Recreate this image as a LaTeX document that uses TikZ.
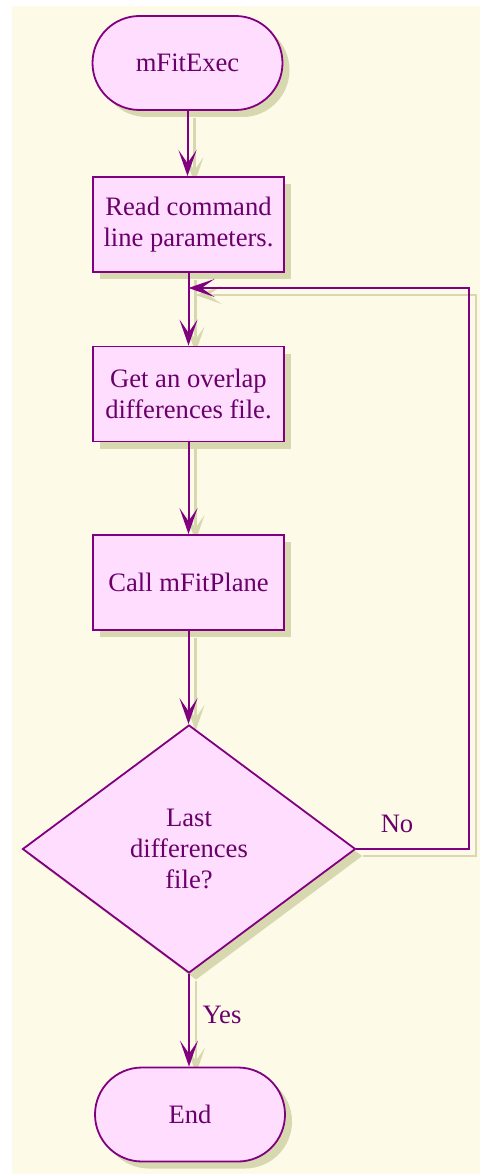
\documentclass[tikz,border=0pt]{standalone}
\usepackage{fontspec}
\setmainfont{Liberation Serif}
\usetikzlibrary{shapes.geometric,shadows,arrows.meta}
\definecolor{bgc}{HTML}{FDFAE8}
\definecolor{fillc}{HTML}{FFDDFF}
\definecolor{linec}{HTML}{800080}
\definecolor{shc}{HTML}{D8D8B0}
\definecolor{txtc}{HTML}{6A006A}
\pgfdeclarelayer{background}
\pgfsetlayers{background,main}
\begin{document}
\begin{tikzpicture}[x=1pt,y=-1pt,
  font=\fontsize{26.6}{31}\selectfont,
  base/.style={draw=linec, line width=1.8pt, fill=fillc, text=txtc, align=center,
     drop shadow={shadow xshift=7pt, shadow yshift=-7pt, fill=shc, opacity=1}},
  term/.style={base, rectangle, rounded corners=47pt, minimum width=190pt, minimum height=94pt, inner sep=0pt},
  proc/.style={base, rectangle, minimum width=191pt, minimum height=95pt, inner sep=0pt},
  decision/.style={base, diamond, minimum width=333pt, minimum height=248pt, inner sep=0pt, aspect=1.34},
  arr/.style={draw=linec, line width=2pt, -{Stealth[length=26pt,width=18pt,inset=13pt]}},
  sharr/.style={draw=shc, line width=2.6pt, -{Stealth[length=26pt,width=18pt,inset=13pt]}},
  lbl/.style={text=txtc, inner sep=0pt}
]
\useasboundingbox (0,0) rectangle (480,1174);

\node[term] (exec) at (187.5,63) {mFitExec};
\node[proc] (read) at (188.5,224.5) {Read command\\line parameters.};
\node[proc] (get) at (188.5,394) {Get an overlap\\differences file.};
\node[proc] (call) at (188.5,582.5) {Call mFitPlane};
\node[decision] (dec) at (189,849) {Last\\differences\\file?};
\node[term] (end) at (190,1114.5) {End};
\coordinate (corner) at (469,288);
\coordinate (join) at (188.5,288);
\node[lbl] (no) at (397,824) {No};
\node[lbl] (yes) at (222,1015) {Yes};

\begin{pgfonlayer}{background}
  \fill[bgc] (12,6) rectangle (480,1174);
  \begin{scope}[transform canvas={shift={(7pt,-7pt)}}]
    \draw[sharr] (exec.south) -- (exec.south |- read.north);
    \draw[sharr] (read.south) -- (read.south |- get.north);
    \draw[sharr] (get.south) -- (get.south |- call.north);
    \draw[sharr] (call.south) -- (call.south |- dec.north);
    \draw[sharr] (dec.south) -- (dec.south |- end.north);
    \draw[sharr] (dec.east) -| (corner) -- (join);
  \end{scope}
\end{pgfonlayer}

\draw[arr] (exec.south) -- (exec.south |- read.north);
\draw[arr] (read.south) -- (read.south |- get.north);
\draw[arr] (get.south) -- (get.south |- call.north);
\draw[arr] (call.south) -- (call.south |- dec.north);
\draw[arr] (dec.south) -- (dec.south |- end.north);
\draw[arr] (dec.east) -| (corner) -- (join);
\end{tikzpicture}
\end{document}
